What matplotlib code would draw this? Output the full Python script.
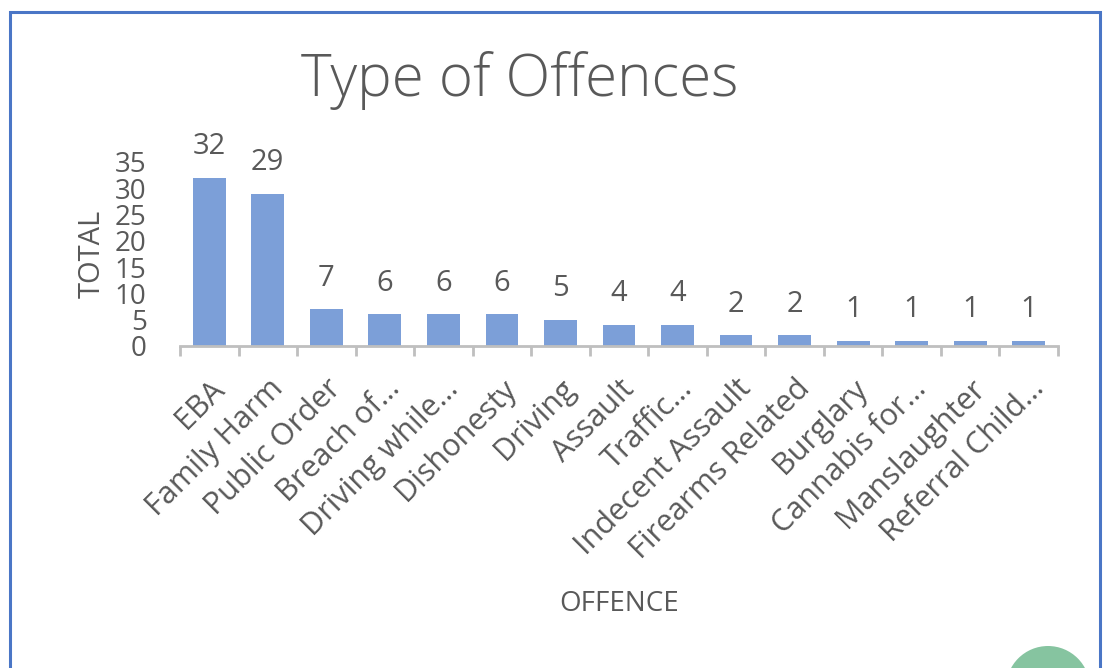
import numpy as np
import matplotlib.pyplot as plt
from matplotlib.patches import Rectangle, Circle

# Данные
offences = ["EBA", "Family Harm", "Public Order", "Breach of…", "Driving while…",
            "Dishonesty", "Driving", "Assault", "Traffic…", "Indecent Assault",
            "Firearms Related", "Burglary", "Cannabis for…", "Manslaughter",
            "Referral Child…"]
totals = [32, 29, 7, 6, 6, 6, 5, 4, 4, 2, 2, 1, 1, 1, 1]
y_ticks = [0, 5, 10, 15, 20, 25, 30, 35]

text_color = "#595959"
bar_color = "#7C9FD8"
axis_color = "#BFBFBF"

plt.rcParams["font.family"] = ["Open Sans", "DejaVu Sans"]

fig = plt.figure(figsize=(11.06, 6.68), dpi=100)
fig.patch.set_facecolor("white")

# Рамка слайда
fig.patches.append(Rectangle((10 / 1106, -0.02), 1090 / 1106, 1.0 - 12 / 668 + 0.02,
                             transform=fig.transFigure, fill=False,
                             edgecolor="#4A76C6", linewidth=2.2, zorder=0))
# Зелёный кружок в углу
fig.patches.append(Circle((10.48, -0.20), 0.42, transform=fig.dpi_scale_trans,
                          facecolor="#86C4A0", edgecolor="none"))

ax = fig.add_axes([180 / 1106, (668 - 346) / 668, 878 / 1106, 184 / 668])
x = np.arange(len(offences))
ax.bar(x, totals, width=0.56, color=bar_color, zorder=2)

for xi, v in zip(x, totals):
    ax.annotate(str(v), (xi, v), xytext=(0, 12), textcoords="offset points",
                ha="center", va="bottom", fontsize=21, color=text_color)

ax.set_xlim(-0.5, len(offences) - 0.5)
ax.set_ylim(0, 35)
ax.set_yticks(y_ticks)
ax.set_yticklabels([str(t) for t in y_ticks], fontsize=20, color=text_color)
ax.tick_params(axis="y", length=0, pad=24)

ax.set_xticks(x)
ax.set_xticklabels(offences, rotation=45, ha="right", rotation_mode="anchor",
                   fontsize=22, color=text_color)
ax.tick_params(axis="x", which="major", length=0, pad=20)
ax.set_xticks(np.arange(-0.5, len(offences), 1.0), minor=True)
ax.tick_params(axis="x", which="minor", length=7, width=2, color=axis_color)

for s in ["top", "right", "left"]:
    ax.spines[s].set_visible(False)
ax.spines["bottom"].set_color(axis_color)
ax.spines["bottom"].set_linewidth(2)

ax.set_ylabel("TOTAL", fontsize=21, color=text_color, labelpad=6)
ax.set_xlabel("OFFENCE", fontsize=20, color=text_color, labelpad=18)

fig.text(520 / 1106, (668 - 80) / 668, "Type of Offences", ha="center", va="center",
         fontsize=42, color=text_color, fontweight="light")

fig.savefig("out.png", dpi=100)
plt.close(fig)
